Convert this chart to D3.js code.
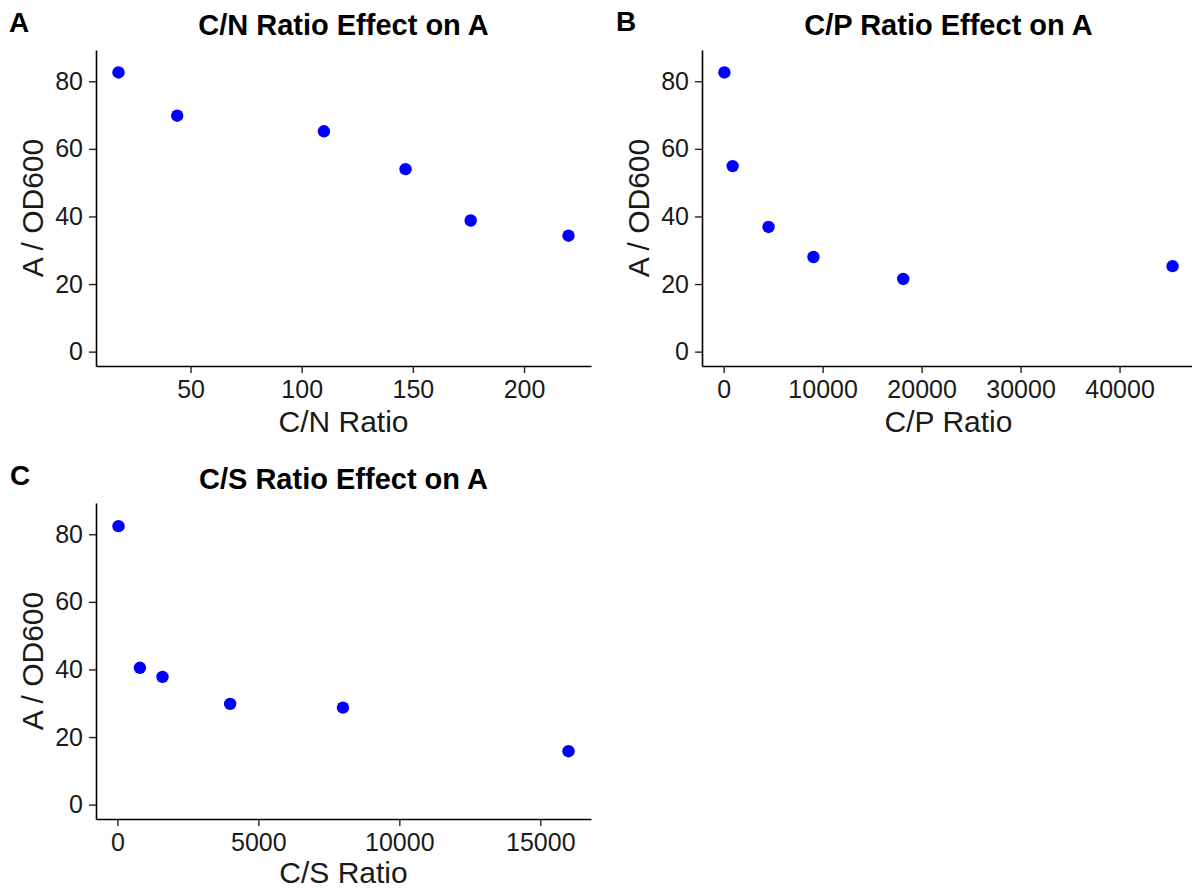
<!DOCTYPE html>
<html>
<head>
<meta charset="utf-8">
<script src="https://cdn.jsdelivr.net/npm/d3@7"></script>
<style>
  body { margin: 0; background: #fff; }
  svg { display: block; font-family: "Liberation Sans", Arial, sans-serif; }
</style>
</head>
<body>
<svg id="chart" width="1192" height="888"></svg>
<script>
// Data -----------------------------------------------------------------------

var cnRatio = [17.6, 44, 110, 146.7, 176, 220];
var cnA = [82.6, 69.8, 65.2, 54.0, 38.8, 34.3];

var cpRatio = [76, 907, 4536, 9072, 18144, 45360];
var cpA = [82.6, 54.9, 36.9, 28.0, 21.5, 25.3];

var csRatio = [40, 800, 1600, 4000, 8000, 16000];
var csA = [82.4, 40.5, 37.8, 29.8, 28.7, 15.8];

var yTicks = [0, 20, 40, 60, 80];
var cnTicks = [50, 100, 150, 200];
var cpTicks = [0, 10000, 20000, 30000, 40000];
var csTicks = [0, 5000, 10000, 15000];

// Panels -----------------------------------------------------------------------

var svg = d3.select("#chart");

var panels = [
    { tag: "A", title: "C/N Ratio Effect on A", xTitle: "C/N Ratio", x: cnRatio, y: cnA, ticks: cnTicks,
      left: 96, right: 591, top: 50, bottom: 366, tagX: 9, tagY: 32, titleY: 35, xTitleY: 432 },
    { tag: "B", title: "C/P Ratio Effect on A", xTitle: "C/P Ratio", x: cpRatio, y: cpA, ticks: cpTicks,
      left: 702, right: 1195, top: 50, bottom: 366, tagX: 616, tagY: 31, titleY: 35, xTitleY: 432 },
    { tag: "C", title: "C/S Ratio Effect on A", xTitle: "C/S Ratio", x: csRatio, y: csA, ticks: csTicks,
      left: 96, right: 591, top: 503, bottom: 819, tagX: 10, tagY: 485, titleY: 489, xTitleY: 883 }
];

// ggplot style 5% padding
function padded(lo, hi) {
    var p = (hi - lo) * 0.05;
    return [lo - p, hi + p];
}

panels.forEach(drawPanel);

function drawPanel(p) {
    var x = d3.scaleLinear()
        .domain(padded(d3.min(p.x), d3.max(p.x)))
        .range([p.left, p.right]);
    var y = d3.scaleLinear()
        .domain(padded(0, 85))
        .range([p.bottom, p.top]);

    var g = svg.append("g");

    var xAxis = g.append("g")
        .attr("transform", "translate(0," + p.bottom + ")")
        .call(d3.axisBottom(x).tickValues(p.ticks).tickSize(7).tickSizeOuter(0).tickPadding(7)
            .tickFormat(d3.format("d")));

    var yAxis = g.append("g")
        .attr("transform", "translate(" + p.left + ",0)")
        .call(d3.axisLeft(y).tickValues(yTicks).tickSize(7).tickSizeOuter(0).tickPadding(6));

    [xAxis, yAxis].forEach(function (a) {
        a.select(".domain").attr("stroke", "#000").attr("stroke-width", 1.6);
        a.selectAll(".tick line").attr("stroke", "#222").attr("stroke-width", 1.4);
        a.selectAll(".tick text")
            .attr("fill", "#1a1a1a")
            .style("font-size", "25px")
            .style("font-family", "Liberation Sans, Arial, sans-serif");
    });

    // points
    g.append("g")
        .selectAll("circle")
        .data(p.x)
        .enter()
        .append("circle")
        .attr("cx", function (d) { return x(d); })
        .attr("cy", function (d, i) { return y(p.y[i]); })
        .attr("r", 6.2)
        .attr("fill", "#0000ff");

    var cx = (p.left + p.right) / 2;
    var cy = (p.top + p.bottom) / 2;

    g.append("text")
        .attr("x", cx)
        .attr("y", p.titleY)
        .attr("text-anchor", "middle")
        .style("font-size", "29px")
        .style("font-weight", "bold")
        .text(p.title);

    g.append("text")
        .attr("x", p.tagX)
        .attr("y", p.tagY)
        .style("font-size", "28px")
        .style("font-weight", "bold")
        .text(p.tag);

    g.append("text")
        .attr("x", cx)
        .attr("y", p.xTitleY)
        .attr("text-anchor", "middle")
        .attr("fill", "#1a1a1a")
        .style("font-size", "30px")
        .text(p.xTitle);

    g.append("text")
        .attr("transform", "translate(" + (p.left - 53) + "," + cy + ") rotate(-90)")
        .attr("text-anchor", "middle")
        .attr("fill", "#1a1a1a")
        .style("font-size", "30px")
        .text("A / OD600");
}
</script>
</body>
</html>
